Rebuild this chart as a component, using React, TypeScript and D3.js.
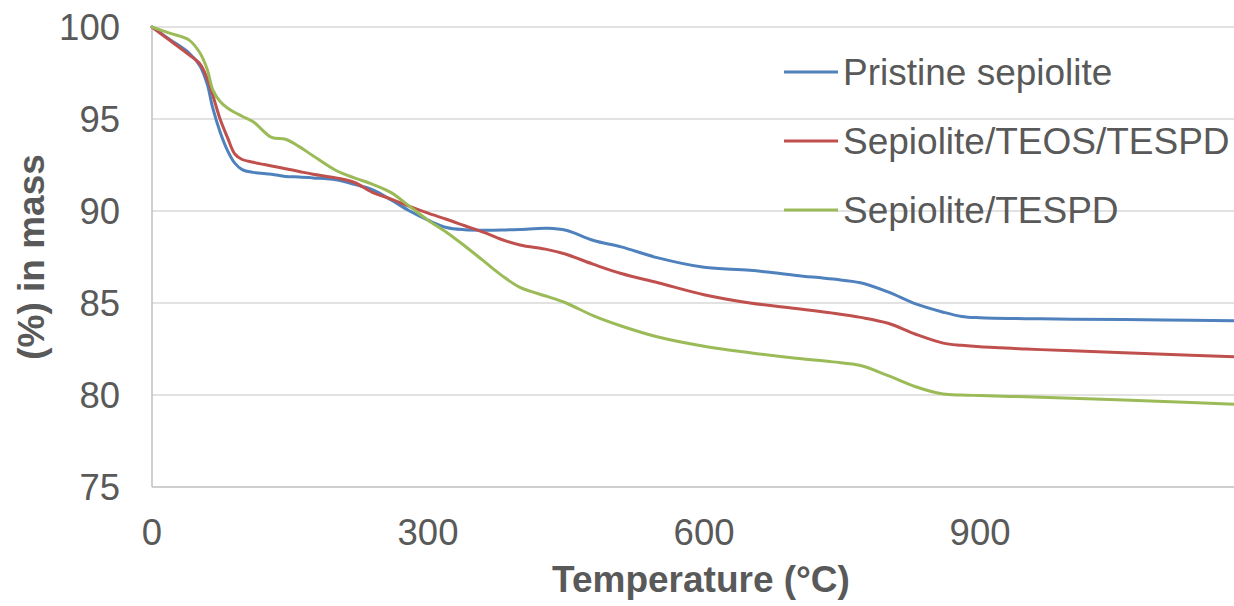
import React from "react";
import * as d3 from "d3";

const temps = [0, 20, 40, 52, 60, 66, 74, 82, 90, 98, 110, 130, 145, 160, 175, 200, 220, 240, 260, 280, 300, 320, 340, 360, 380, 400, 430, 450, 480, 510, 550, 600, 650, 700, 740, 770, 800, 830, 860, 880, 900, 950, 1000, 1100, 1176];

const pristine = [100, 99.3, 98.6, 97.9, 96.9, 95.6, 94.3, 93.3, 92.6, 92.25, 92.1, 92.0, 91.88, 91.85, 91.8, 91.7, 91.45, 91.15, 90.6, 90.0, 89.5, 89.1, 88.98, 88.96, 88.97, 89.0, 89.06, 88.95, 88.4, 88.05, 87.45, 86.94, 86.78, 86.5, 86.3, 86.1, 85.6, 84.95, 84.5, 84.27, 84.2, 84.15, 84.12, 84.08, 84.04];

const teosTespd = [100, 99.25, 98.5, 98.0, 97.2, 96.3, 95.0, 94.0, 93.1, 92.8, 92.65, 92.45, 92.3, 92.15, 92.0, 91.8, 91.55, 91.0, 90.65, 90.25, 89.88, 89.55, 89.2, 88.85, 88.45, 88.15, 87.9, 87.65, 87.1, 86.6, 86.1, 85.45, 85.0, 84.7, 84.45, 84.22, 83.9, 83.3, 82.82, 82.7, 82.62, 82.5, 82.4, 82.22, 82.08];

const tespd = [100, 99.65, 99.3, 98.6, 97.7, 96.6, 95.95, 95.6, 95.35, 95.15, 94.85, 94.0, 93.9, 93.5, 93.0, 92.2, 91.8, 91.45, 91.0, 90.25, 89.5, 88.85, 88.1, 87.3, 86.5, 85.85, 85.35, 85.0, 84.3, 83.75, 83.15, 82.65, 82.3, 82.0, 81.8, 81.6, 81.05, 80.45, 80.05, 80.0, 79.97, 79.9, 79.82, 79.65, 79.5];

const seriesNames = ["Pristine sepiolite", "Sepiolite/TEOS/TESPD", "Sepiolite/TESPD"];
const seriesValues = [pristine, teosTespd, tespd];
const seriesColors = ["#4F81BD", "#C0504D", "#9BBB59"];

const xTicks = [0, 300, 600, 900];
const yTicks = [75, 80, 85, 90, 95, 100];

const W = 1234;
const H = 606;
const left = 152;
const right = 1234;
const top = 27;
const bottom = 487;

export default function App() {
  const x = d3.scaleLinear().domain([0, 1176]).range([left, right]);
  const y = d3.scaleLinear().domain([75, 100]).range([bottom, top]);
  const line = d3
    .line<[number, number]>()
    .x((d) => x(d[0]))
    .y((d) => y(d[1]))
    .curve(d3.curveCatmullRom.alpha(0.5));

  const font = "'Liberation Sans', Arial, sans-serif";
  const textColor = "#595959";

  return (
    <svg
      width={W}
      height={H}
      style={{ position: "absolute", left: 0, top: 0, background: "#fff" }}
      fontFamily={font}
    >
      <rect x={0} y={0} width={W} height={H} fill="#fff" />
      {yTicks
        .filter((t) => t !== 75)
        .map((t) => (
          <line key={t} x1={left} x2={right} y1={y(t)} y2={y(t)} stroke="#D9D9D9" strokeWidth={1.5} />
        ))}
      <line x1={left} x2={left} y1={top} y2={bottom} stroke="#BFBFBF" strokeWidth={1.5} />
      <line x1={left} x2={right} y1={bottom} y2={bottom} stroke="#BFBFBF" strokeWidth={1.5} />

      {yTicks.map((t) => (
        <text key={t} x={120} y={y(t)} dy="0.35em" textAnchor="end" fontSize={36.5} fill={textColor}>
          {t}
        </text>
      ))}
      {xTicks.map((t) => (
        <text key={t} x={x(t)} y={545} textAnchor="middle" fontSize={36.5} fill={textColor}>
          {t}
        </text>
      ))}

      <text x={701} y={592} textAnchor="middle" fontSize={37} fontWeight="bold" fill={textColor}>
        Temperature (°C)
      </text>
      <text
        transform="translate(44,257) rotate(-90)"
        textAnchor="middle"
        fontSize={37}
        fontWeight="bold"
        fill={textColor}
      >
        (%) in mass
      </text>

      {seriesValues.map((vals, i) => (
        <path
          key={seriesNames[i]}
          d={line(temps.map((t, j) => [t, vals[j]] as [number, number])) || ""}
          fill="none"
          stroke={seriesColors[i]}
          strokeWidth={3}
          strokeLinejoin="round"
          strokeLinecap="round"
        />
      ))}

      {seriesNames.map((name, i) => {
        const ly = 72 + i * 69;
        return (
          <g key={name}>
            <line x1={784} x2={838} y1={ly} y2={ly} stroke={seriesColors[i]} strokeWidth={3} />
            <text x={843} y={ly} dy="0.35em" fontSize={37} fill={textColor}>
              {name}
            </text>
          </g>
        );
      })}
    </svg>
  );
}
